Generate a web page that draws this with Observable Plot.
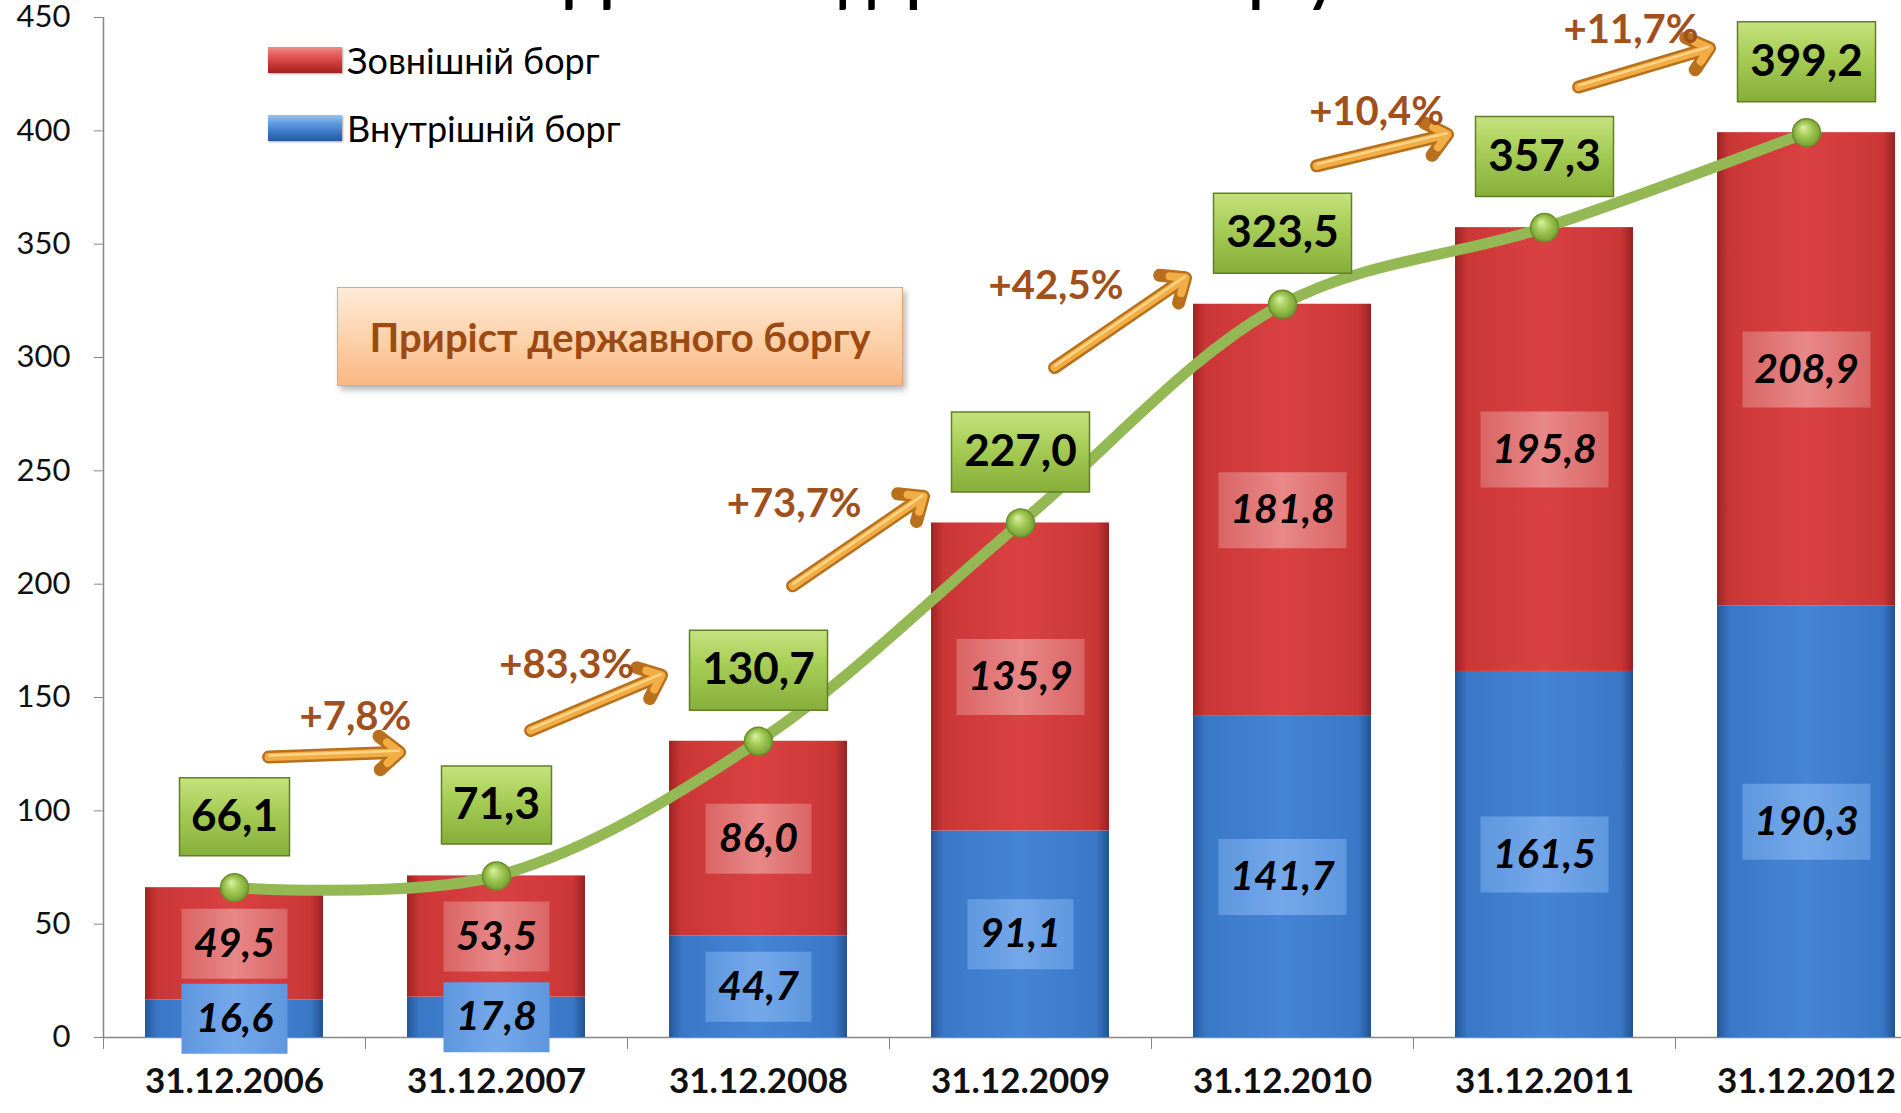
<!DOCTYPE html>
<html>
<head>
<meta charset="utf-8">
<script src="https://cdn.jsdelivr.net/npm/d3@7"></script>
<script src="https://cdn.jsdelivr.net/npm/@observablehq/plot@0.6"></script>
<style>
  html, body { margin: 0; padding: 0; background: #fff; overflow: hidden; }
  #wrap { position: relative; width: 1901px; height: 1113px; overflow: hidden; font-family: Lato, Roboto, sans-serif; }
  #wrap svg { position: absolute; left: 0; top: 0; overflow: hidden; }
  #title { position: absolute; left: 565px; top: -51px; font: bold 58px/58px Lato, Roboto, sans-serif; color: #000; white-space: nowrap; }
  .legend { position: absolute; left: 268px; display: flex; align-items: center; font-size: 36px; color: #000; white-space: nowrap; }
  .sw { width: 74px; height: 26px; margin-right: 5px; box-shadow: 1px 1px 2px rgba(0,0,0,0.35); }
  #growthBox { position: absolute; left: 337px; top: 287px; width: 564px; height: 97px;
    background: linear-gradient(to bottom, #FFEBD8 0%, #FDD0A8 55%, #F9B783 100%);
    border: 1.5px solid #E9A66C; box-shadow: 3px 4px 6px rgba(0,0,0,0.28);
    display: flex; align-items: center; justify-content: center;
    font-weight: bold; font-size: 40px; color: #9C4A12; white-space: nowrap; }
</style>
</head>
<body>
<div id="wrap"></div>
<script>
// ---------- data ----------
const categories = ["31.12.2006", "31.12.2007", "31.12.2008", "31.12.2009", "31.12.2010", "31.12.2011", "31.12.2012"];
const internalDebt = [16.6, 17.8, 44.7, 91.1, 141.7, 161.5, 190.3];   // Внутрішній борг
const externalDebt = [49.5, 53.5, 86.0, 135.9, 181.8, 195.8, 208.9];  // Зовнішній борг
const totalDebt = [66.1, 71.3, 130.7, 227.0, 323.5, 357.3, 399.2];
const growthLabels = ["+7,8%", "+83,3%", "+73,7%", "+42,5%", "+10,4%", "+11,7%"];
const seriesNames = ["Зовнішній борг", "Внутрішній борг"];
const yTickValues = [0, 50, 100, 150, 200, 250, 300, 350, 400, 450];
const titleText = "Динаміка державного боргу";
const growthBoxText = "Приріст державного боргу";

// ---------- derived tables ----------
const fmt = v => v.toFixed(1).replace(".", ",");
const segs = categories.flatMap((c, i) => [
  {i, series: "internal", y1: 0, y2: internalDebt[i], v: internalDebt[i]},
  {i, series: "external", y1: internalDebt[i], y2: internalDebt[i] + externalDebt[i], v: externalDebt[i]}
]);
const totals = categories.map((c, i) => ({i, v: totalDebt[i]}));
// growth arrows follow the change between consecutive totals
const steps = growthLabels.map((label, i) => {
  const a = totalDebt[i], b = totalDebt[i + 1], d = b - a;
  const x1 = i + 0.13, y1 = a + 57 + 0.12 * d;
  return {label, x1, x2: x1 + 0.5, y1, y2: y1 + 0.41 * d,
          lx: x1 + 0.35 - d / 280, ly: y1 + 0.2 * d};
});

const boxSymbol = (w, h) => ({draw(ctx) { ctx.rect(-w / 2, -h / 2, w, h); }});
const short = d => fmt(d.v).length <= 4;
const long = d => fmt(d.v).length > 4;

const FONT = "Lato, Roboto, sans-serif";

const chart = Plot.plot({
  width: 1901,
  height: 1113,
  marginLeft: 103,
  marginRight: -36,
  marginTop: 17,
  marginBottom: 76,
  x: {domain: [-0.5, categories.length - 0.5], axis: null},
  y: {domain: [0, 450], axis: null},
  style: {fontFamily: FONT, background: "transparent", color: "#111"},
  marks: [
    Plot.ruleX([-0.5], {stroke: "#868686", strokeWidth: 1.5}),
    Plot.axisY({ticks: yTickValues, tickSize: 9, tickPadding: 24, fontSize: 31, stroke: "#868686", label: null, tickFormat: d => String(d)}),
    Plot.ruleY([0], {stroke: "#868686", strokeWidth: 1.5}),
    // stacked bars
    Plot.rectY(segs.filter(d => d.series === "internal"), {x1: d => d.i - 0.5, x2: d => d.i + 0.5, y1: "y1", y2: "y2", insetLeft: 42, insetRight: 42, fill: "url(#gBlue)"}),
    Plot.rectY(segs.filter(d => d.series === "external"), {x1: d => d.i - 0.5, x2: d => d.i + 0.5, y1: "y1", y2: "y2", insetLeft: 42, insetRight: 42, fill: "url(#gRed)"}),
    // segment label boxes
    Plot.dot(segs.filter(d => d.series === "internal" && short(d)), {x: "i", y: d => (d.y1 + d.y2) / 2, symbol: boxSymbol(106, 70), fill: "url(#gLblBlue)"}),
    Plot.dot(segs.filter(d => d.series === "internal" && long(d)), {x: "i", y: d => (d.y1 + d.y2) / 2, symbol: boxSymbol(128, 76), fill: "url(#gLblBlue)"}),
    Plot.dot(segs.filter(d => d.series === "external" && short(d)), {x: "i", y: d => (d.y1 + d.y2) / 2, symbol: boxSymbol(106, 70), fill: "url(#gLblRed)"}),
    Plot.dot(segs.filter(d => d.series === "external" && long(d)), {x: "i", y: d => (d.y1 + d.y2) / 2, symbol: boxSymbol(128, 76), fill: "url(#gLblRed)"}),
    Plot.text(segs, {x: "i", y: d => (d.y1 + d.y2) / 2, text: d => fmt(d.v), fontSize: 41, fontWeight: "bold", fontStyle: "italic", fill: "#000"}),
    // total line
    Plot.line(totals, {x: "i", y: "v", curve: "catmull-rom", stroke: "#93B854", strokeWidth: 11}),
    Plot.dot(totals, {x: "i", y: "v", r: 14, fill: "url(#gBall)", stroke: "#6A8F2C", strokeWidth: 1.5}),
    // total boxes
    Plot.dot(totals.filter(short), {x: "i", y: "v", dy: -71, symbol: boxSymbol(110, 78), fill: "url(#gGreen)", stroke: "#5F8025", strokeWidth: 1.5}),
    Plot.dot(totals.filter(long), {x: "i", y: "v", dy: -71, symbol: boxSymbol(138, 80), fill: "url(#gGreen)", stroke: "#5F8025", strokeWidth: 1.5}),
    Plot.text(totals, {x: "i", y: "v", dy: -71, text: d => fmt(d.v), fontSize: 44, fontWeight: "bold", fill: "#000"}),
    // growth arrows
    Plot.arrow(steps, {x1: "x1", y1: "y1", x2: "x2", y2: "y2", stroke: "#B8701C", strokeWidth: 13, headLength: 3, headAngle: 80}),
    Plot.arrow(steps, {x1: "x1", y1: "y1", x2: "x2", y2: "y2", stroke: "#F2AE45", strokeWidth: 8, headLength: 3, headAngle: 80}),
    Plot.link(steps, {x1: "x1", y1: "y1", x2: "x2", y2: "y2", stroke: "#FBD58A", strokeWidth: 2.5, dy: -1.5}),
    Plot.text(steps, {x: "lx", y: "ly", dy: -38, text: "label", fontSize: 40, fontWeight: "bold", fill: "#A0501C"}),
    // x axis
    Plot.axisX({ticks: categories.map((c, i) => i - 0.5).concat([categories.length - 0.5]), tickSize: 12, stroke: "#868686", tickFormat: () => "", label: null}),
    Plot.axisX({ticks: categories.map((c, i) => i), tickSize: 0, tickPadding: 31, fontSize: 35, fontWeight: "bold", tickFormat: i => categories[i], label: null})
  ]
});

// gradients
const svg = d3.select(chart);
const defs = svg.insert("defs", ":first-child");
function lin(id, stops, x2 = "100%", y2 = "0%") {
  const g = defs.append("linearGradient").attr("id", id).attr("x1", "0%").attr("y1", "0%").attr("x2", x2).attr("y2", y2);
  stops.forEach(([o, c, op]) => g.append("stop").attr("offset", o).attr("stop-color", c).attr("stop-opacity", op ?? 1));
}
lin("gRed", [["0%", "#9E2424"], ["7%", "#CB3636"], ["50%", "#DA4242"], ["93%", "#CB3636"], ["100%", "#992222"]]);
lin("gBlue", [["0%", "#24579A"], ["7%", "#3A77C7"], ["50%", "#4585D6"], ["93%", "#3A77C7"], ["100%", "#22538F"]]);
lin("gLblBlue", [["0%", "#5E97DE"], ["50%", "#74A8EA"], ["100%", "#5E97DE"]]);
lin("gLblRed", [["0%", "#DA6464"], ["50%", "#E88888"], ["100%", "#DA6464"]]);
lin("gGreen", [["0%", "#C6E27E"], ["45%", "#A6CC55"], ["100%", "#86AE38"]], "0%", "100%");
const rg = defs.append("radialGradient").attr("id", "gBall").attr("cx", "50%").attr("cy", "50%").attr("r", "55%").attr("fx", "38%").attr("fy", "30%");
[["0%", "#DDF0A8"], ["45%", "#A4CB57"], ["100%", "#6E9A2C"]].forEach(([o, c]) => rg.append("stop").attr("offset", o).attr("stop-color", c));

const wrap = document.getElementById("wrap");
wrap.appendChild(chart);

// cut-off title above the frame
const title = document.createElement("div");
title.id = "title";
title.textContent = titleText;
wrap.appendChild(title);

// legend
const swFills = [
  "linear-gradient(to bottom, #F28A8A 0%, #E25656 35%, #C83434 70%, #9E2222 100%)",
  "linear-gradient(to bottom, #92C3F5 0%, #5D98DD 35%, #3A74C0 70%, #28589C 100%)"
];
seriesNames.forEach((name, k) => {
  const row = document.createElement("div");
  row.className = "legend";
  row.style.top = (k === 0 ? 38 : 106) + "px";
  const sw = document.createElement("div");
  sw.className = "sw";
  sw.style.background = swFills[k];
  const tx = document.createElement("span");
  tx.textContent = name;
  row.appendChild(sw);
  row.appendChild(tx);
  wrap.appendChild(row);
});

// growth annotation box
const gb = document.createElement("div");
gb.id = "growthBox";
gb.textContent = growthBoxText;
wrap.appendChild(gb);
</script>
</body>
</html>
